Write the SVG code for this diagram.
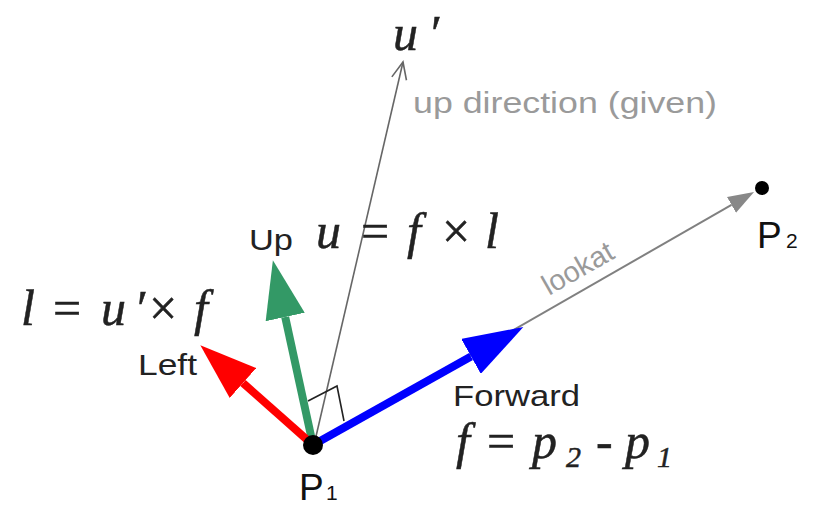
<svg xmlns="http://www.w3.org/2000/svg" width="814" height="513" viewBox="0 0 814 513">
<style>
.lbl{font-family:"Liberation Sans",Arial,sans-serif;font-size:30px;fill:#222}
.pt{font-family:"Liberation Sans",Arial,sans-serif;font-size:37px;fill:#111}
.gray{font-family:"Liberation Sans",Arial,sans-serif;font-size:29px;fill:#9a9a9a}
.math{font-family:"Liberation Serif","Times New Roman",serif;font-style:italic;font-size:50px;fill:#222;stroke:#222;stroke-width:0.5}
.up{font-style:normal}
.sub{font-size:30px}
.thick{stroke-width:8;fill:none}
</style>
<defs>
<marker id="hBlue" markerUnits="userSpaceOnUse" viewBox="0 -20 60 40" refX="0" refY="0" markerWidth="60" markerHeight="40" orient="auto"><path d="M0,-20 L60,0 L0,20 z" fill="#0000ff"/></marker>
<marker id="hGreen" markerUnits="userSpaceOnUse" viewBox="0 -20 60 40" refX="0" refY="0" markerWidth="60" markerHeight="40" orient="auto"><path d="M0,-20 L58,0 L0,20 z" fill="#339966"/></marker>
<marker id="hRed" markerUnits="userSpaceOnUse" viewBox="0 -20 60 40" refX="0" refY="0" markerWidth="60" markerHeight="40" orient="auto"><path d="M0,-20 L57,0 L0,20 z" fill="#ff0000"/></marker>
<marker id="hGray" markerUnits="userSpaceOnUse" viewBox="0 -10 28 20" refX="0" refY="0" markerWidth="28" markerHeight="20" orient="auto"><path d="M0,-9 L26,0 L0,9 z" fill="#888"/></marker>
<marker id="hOpen" markerUnits="userSpaceOnUse" viewBox="-20 -10 22 20" refX="0" refY="0" markerWidth="22" markerHeight="20" orient="auto"><path d="M-17,-7.5 L0,0 L-17,7.5" fill="none" stroke="#666" stroke-width="1.6"/></marker>
</defs>
<rect width="814" height="513" fill="#fff"/>
<g id="connectors">
<line id="lookat-line" x1="313" y1="445" x2="731.5" y2="204.9" stroke="#808080" stroke-width="2" marker-end="url(#hGray)"/>
<line id="upgiven-line" x1="314" y1="445" x2="403" y2="62" stroke="#666" stroke-width="1.6" marker-end="url(#hOpen)"/>
<polyline id="right-angle" points="308,401 337,386 344,421" fill="none" stroke="#222" stroke-width="1.6"/>
<line id="forward" class="thick" x1="313" y1="445" x2="471" y2="356.4" stroke="#0000ff" marker-end="url(#hBlue)"/>
<line id="up" class="thick" x1="313" y1="445" x2="285.2" y2="317" stroke="#339966" marker-end="url(#hGreen)"/>
<line id="left" class="thick" x1="313" y1="445" x2="243" y2="383" stroke="#ff0000" marker-end="url(#hRed)"/>
</g>
<g id="P1">
<circle cx="313" cy="445" r="10" fill="#000"/>
<text class="pt" x="299" y="500">P<tspan font-size="21" x="326">1</tspan></text>
</g>
<g id="P2">
<circle cx="762" cy="188" r="7" fill="#000"/>
<text class="pt" x="757" y="248">P<tspan font-size="21" x="786">2</tspan></text>
</g>
<g id="labels">
<text class="math" x="393 428" y="50">u′</text>
<text class="gray" x="413" y="113" textLength="304" lengthAdjust="spacingAndGlyphs">up direction (given)</text>
<text class="lbl" x="249" y="250" textLength="44" lengthAdjust="spacingAndGlyphs">Up</text>
<text class="math" y="248"><tspan x="316">u</tspan><tspan class="up" x="361">=</tspan><tspan x="407">f</tspan><tspan class="up" x="442">×</tspan><tspan x="485">l</tspan></text>
<text class="math" y="325"><tspan x="21">l</tspan><tspan class="up" x="53">=</tspan><tspan x="101">u</tspan><tspan x="134">′</tspan><tspan class="up" x="149">×</tspan><tspan x="194">f</tspan></text>
<text class="lbl" x="138" y="375" textLength="59" lengthAdjust="spacingAndGlyphs">Left</text>
<text class="lbl" x="453" y="406" textLength="127" lengthAdjust="spacingAndGlyphs">Forward</text>
<text class="math" y="458"><tspan x="456">f</tspan><tspan class="up" x="487">=</tspan><tspan x="532">p</tspan><tspan class="sub" x="566" y="467">2</tspan><tspan class="up" x="596" y="458">-</tspan><tspan x="625">p</tspan><tspan class="sub" x="657" y="467">1</tspan></text>
<text class="gray" transform="translate(549,296) rotate(-29.8)" font-size="29" fill="#aaa">lookat</text>
</g>
</svg>
